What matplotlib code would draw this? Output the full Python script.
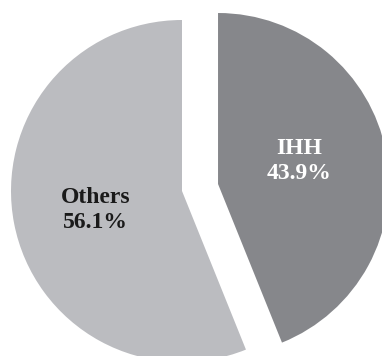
import matplotlib.pyplot as plt

# share of cases
names = ["IHH", "Others"]
shares = [43.9, 56.1]
colors = ["#86878b", "#bbbcc0"]
text_colors = ["white", "#1a1a1a"]
label_pos = [(299.5, 195), (95.5, 146)]

fig = plt.figure(figsize=(3.82, 3.56), dpi=100)
ax = fig.add_axes([0, 0, 1, 1])

labels = [f"{n}\n{v:.1f}%" for n, v in zip(names, shares)]
# explode offset is in data units (same as radius here)
wedges, texts = ax.pie(shares, labels=labels, colors=colors,
                       startangle=90, counterclock=False,
                       explode=[36.7, 0], radius=171, center=(182, 165),
                       labeldistance=0.52,
                       textprops=dict(fontfamily="Liberation Serif",
                                      fontweight="bold", fontsize=17,
                                      linespacing=1.25))
for t, c, p in zip(texts, text_colors, label_pos):
    t.set_color(c)
    t.set_position(p)
    t.set_horizontalalignment("center")
    t.set_verticalalignment("center")

ax.set_xlim(0, 382)
ax.set_ylim(0, 356)
ax.set_aspect("equal")
ax.axis("off")
fig.savefig("out.png", dpi=100)
